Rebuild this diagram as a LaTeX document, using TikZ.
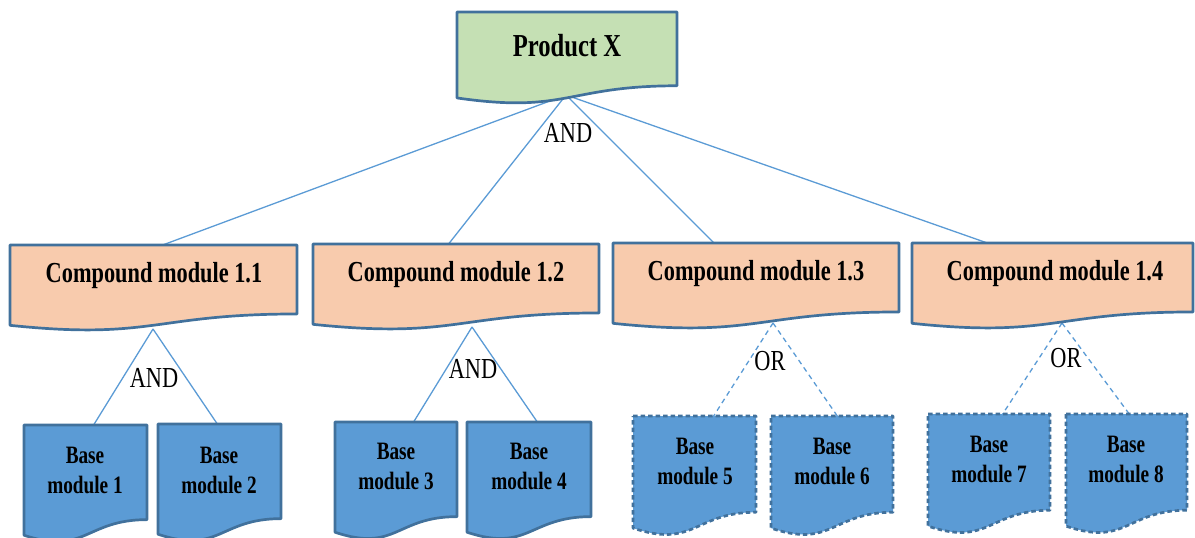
\documentclass[tikz,border=0pt]{standalone}
\usepackage{fontspec}
\setmainfont{Liberation Serif}[FakeStretch=0.77]
\definecolor{lineblue}{HTML}{5B9BD5}
\definecolor{edgeblue}{HTML}{41719C}
\definecolor{prodgreen}{HTML}{C5E0B4}
\definecolor{peach}{HTML}{F8CBAD}
\definecolor{basefill}{HTML}{5B9BD5}

% document-style box: name, left x, top y, right x, height, style
\newcommand\docbox[6]{%
  \pgfmathsetmacro\dbmid{(#2+#4)/2}%
  \pgfmathsetmacro\dbr{#3+0.802*#5}%
  \pgfmathsetmacro\dbl{#3+0.934*#5}%
  \pgfmathsetmacro\dbc{#3+1.1075*#5}%
  \draw[#6] (#2,#3) -- (#4,#3) -- (#4,\dbr)
    .. controls (\dbmid,\dbr) and (\dbmid,\dbc) .. (#2,\dbl) -- cycle;
  \coordinate (#1) at (\dbmid,#3);
}

\tikzset{
  boxedge/.style={draw=edgeblue, line width=2.7pt, line join=round},
  prodbox/.style={boxedge, fill=prodgreen},
  compbox/.style={boxedge, fill=peach},
  basebox/.style={boxedge, fill=basefill},
  optbox/.style={boxedge, fill=basefill, dash pattern=on 4.5pt off 3pt},
  prodtext/.style={font=\fontsize{32}{36}\selectfont\bfseries},
  comptext/.style={font=\fontsize{29}{33}\selectfont\bfseries},
  basetext/.style={font=\fontsize{25}{30}\selectfont\bfseries, align=center},
  gate/.style={font=\fontsize{29}{32}\selectfont, inner sep=1pt},
  link/.style={draw=lineblue, line width=1.3pt},
  optlink/.style={link, dash pattern=on 5pt off 4pt},
}

\begin{document}
\begin{tikzpicture}[x=1pt, y=-1pt]
\useasboundingbox (0,0) rectangle (1195,538);

% connectors (drawn first, boxes cover their ends)
\coordinate (px-b) at (566,95);
\coordinate (c1-t) at (160,246);
\coordinate (c2-t) at (447,246);
\coordinate (c3-t) at (716,245);
\coordinate (c4-t) at (993,245);
\draw[link] (px-b) -- (c1-t);
\draw[link] (px-b) -- (c2-t);
\draw[link] (px-b) -- (c3-t);
\draw[link] (px-b) -- (c4-t);

\coordinate (c1-b) at (153,329);
\coordinate (c2-b) at (472,327);
\coordinate (c3-b) at (773,323);
\coordinate (c4-b) at (1062,323);
\coordinate (b1-t) at (93,426);
\coordinate (b2-t) at (218,425);
\coordinate (b3-t) at (413,423);
\coordinate (b4-t) at (538,423);
\coordinate (b5-t) at (713,417);
\coordinate (b6-t) at (838,417);
\coordinate (b7-t) at (1002,415);
\coordinate (b8-t) at (1130,415);
\draw[link] (c1-b) -- (b1-t);
\draw[link] (c1-b) -- (b2-t);
\draw[link] (c2-b) -- (b3-t);
\draw[link] (c2-b) -- (b4-t);
\draw[optlink] (c3-b) -- (b5-t);
\draw[optlink] (c3-b) -- (b6-t);
\draw[optlink] (c4-b) -- (b7-t);
\draw[optlink] (c4-b) -- (b8-t);

% product
\docbox{pxbox}{457}{12}{677}{92}{prodbox}
\node[prodtext] (px) at (567,46) {Product X};

% compound modules
\docbox{c1box}{10}{245}{297}{86}{compbox}
\docbox{c2box}{313}{244}{599}{86}{compbox}
\docbox{c3box}{613}{243}{899}{86}{compbox}
\docbox{c4box}{912}{243}{1193}{86}{compbox}
\node[comptext] (c1) at (154,276) {Compound module 1.1};
\node[comptext] (c2) at (456,275) {Compound module 1.2};
\node[comptext] (c3) at (756,274) {Compound module 1.3};
\node[comptext] (c4) at (1055,274) {Compound module 1.4};

% base modules
\docbox{b1box}{24}{425}{147}{118}{basebox}
\docbox{b2box}{158}{424}{281}{118}{basebox}
\docbox{b3box}{335}{422}{457}{118}{basebox}
\docbox{b4box}{467}{422}{591}{118}{basebox}
\docbox{b5box}{633}{416}{756}{120}{optbox}
\docbox{b6box}{771}{416}{893}{120}{optbox}
\docbox{b7box}{928}{414}{1050}{120}{optbox}
\docbox{b8box}{1066}{414}{1187}{120}{optbox}
\node[basetext] (b1) at (85,470) {Base\\module 1};
\node[basetext] (b2) at (219,470) {Base\\module 2};
\node[basetext] (b3) at (396,466) {Base\\module 3};
\node[basetext] (b4) at (529,466) {Base\\module 4};
\node[basetext] (b5) at (695,461) {Base\\module 5};
\node[basetext] (b6) at (832,461) {Base\\module 6};
\node[basetext] (b7) at (989,459) {Base\\module 7};
\node[basetext] (b8) at (1126,459) {Base\\module 8};

% gate labels
\node[gate] (g0) at (568,133) {AND};
\node[gate] (g1) at (154,378) {AND};
\node[gate] (g2) at (473,369) {AND};
\node[gate] (g3) at (770,361) {OR};
\node[gate] (g4) at (1066,358) {OR};
\end{tikzpicture}
\end{document}
